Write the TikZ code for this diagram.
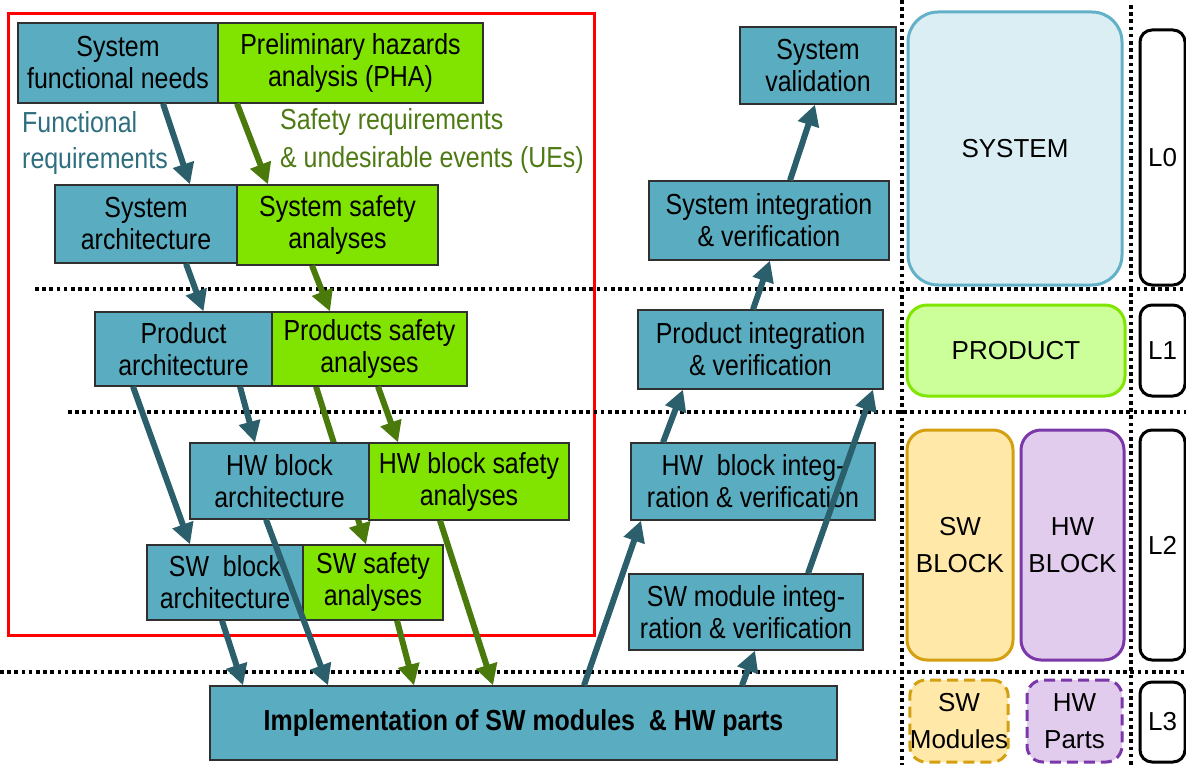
\documentclass[tikz,border=0pt]{standalone}
\usepackage{fontspec}
\setmainfont{Liberation Sans}
\newfontfamily\narrowfont{Liberation Sans}[FakeStretch=0.86]
\usetikzlibrary{arrows.meta,backgrounds}
\definecolor{tealfill}{HTML}{5AADC0}
\definecolor{greenfill}{HTML}{80E400}
\definecolor{boxline}{HTML}{303030}
\definecolor{tealarrow}{HTML}{2B5F6B}
\definecolor{greenarrow}{HTML}{4A7A0C}
\definecolor{tealtext}{HTML}{2E6E7E}
\definecolor{greentext}{HTML}{4E7A14}
\definecolor{sysfill}{HTML}{DAEEF3}
\definecolor{sysline}{HTML}{62B1C9}
\definecolor{prodfill}{HTML}{CCFF99}
\definecolor{prodline}{HTML}{80E600}
\definecolor{swfill}{HTML}{FFE8A8}
\definecolor{swline}{HTML}{D4A010}
\definecolor{hwfill}{HTML}{E2CCEE}
\definecolor{hwline}{HTML}{7B38A8}
\tikzset{
  tbox/.style={draw=boxline, line width=1.2pt, fill=tealfill, inner sep=2pt, align=center,
    font=\narrowfont\fontsize{29}{32}\selectfont, text=black},
  gbox/.style={tbox, fill=greenfill},
  tarr/.style={draw=tealarrow, line width=6pt, -{Triangle[length=21pt,width=21pt]}},
  garr/.style={tarr, draw=greenarrow},
  dotline/.style={line width=3.6pt, dash pattern=on 3.6pt off 3.6pt, black},
  rbox/.style={line width=3pt, rounded corners=20pt, align=center,
    font=\fontsize{26}{37}\selectfont, inner sep=0pt},
  lbox/.style={draw=black, line width=3pt, rounded corners=12pt, fill=white,
    font=\fontsize{26}{30}\selectfont, inner sep=0pt}
}
\begin{document}
\begin{tikzpicture}[x=1pt,y=-1pt]
\useasboundingbox (0,0) rectangle (1186,765);

% left V branch
\node[tbox, minimum width=200pt, minimum height=80pt] (sfn) at (118,63) {System\\functional needs};
\node[gbox, minimum width=265pt, minimum height=80pt] (pha) at (350.5,63) {Preliminary hazards\\analysis (PHA)};
\node[tbox, minimum width=182pt, minimum height=78pt] (sa) at (146,224) {System\\architecture};
\node[gbox, minimum width=201pt, minimum height=80pt] (ssa) at (337.5,225) {System safety\\analyses};
\node[tbox, minimum width=177pt, minimum height=74pt] (pa) at (183.5,349) {Product\\architecture};
\node[gbox, minimum width=195pt, minimum height=74pt] (psa) at (369.5,349) {Products safety\\analyses};
\node[tbox, minimum width=179pt, minimum height=76pt] (hwa) at (279.5,481) {HW block\\architecture};
\node[gbox, minimum width=200pt, minimum height=77pt] (hwsa) at (469,481.5) {HW block safety\\analyses};
\node[tbox, minimum width=156pt, minimum height=75pt] (swa) at (225,582.5) {SW\ \ block\\architecture};
\node[gbox, minimum width=140pt, minimum height=75pt] (swsa) at (373,582.5) {SW safety\\analyses};
\node[tbox, minimum width=627pt, minimum height=74pt, font=\narrowfont\bfseries\fontsize{29}{32}\selectfont] (impl) at (523.5,723) {Implementation of SW modules\ \ \& HW parts};

% right V branch
\node[tbox, minimum width=156pt, minimum height=77pt] (sv) at (818,65.5) {System\\validation};
\node[tbox, minimum width=240pt, minimum height=79pt] (siv) at (769,220.5) {System integration\\\& verification};
\node[tbox, minimum width=245pt, minimum height=79pt] (piv) at (760.5,349.5) {Product integration\\\& verification};
\node[tbox, minimum width=244pt, minimum height=77pt] (hbiv) at (753,481.5) {HW\ \ block integ-\\ration \& verification};
\node[tbox, minimum width=234pt, minimum height=76pt] (smiv) at (746,612) {SW module integ-\\ration \& verification};

% labels
\node[anchor=west, align=left, inner sep=0pt, text=tealtext, font=\narrowfont\fontsize{29}{36}\selectfont] (freq) at (22,143) {Functional\\requirements};
\node[anchor=west, align=left, inner sep=0pt, text=greentext, font=\narrowfont\fontsize{29}{38}\selectfont] (sreq) at (280,141) {Safety requirements\\\& undesirable events (UEs)};

% level legend
\node[rbox, draw=sysline, fill=sysfill, rounded corners=30pt, minimum width=214pt, minimum height=273pt] (sys) at (1015,148.5) {SYSTEM};
\node[rbox, draw=prodline, fill=prodfill, minimum width=218pt, minimum height=91pt] (prod) at (1016,350.5) {PRODUCT};
\node[rbox, draw=swline, fill=swfill, minimum width=106pt, minimum height=230pt] (swb) at (960,545) {SW\\BLOCK};
\node[rbox, draw=hwline, fill=hwfill, minimum width=103pt, minimum height=230pt] (hwb) at (1072.5,545) {HW\\BLOCK};
\node[rbox, draw=swline, fill=swfill, dash pattern=on 11pt off 6pt, rounded corners=16pt, minimum width=98pt, minimum height=82pt] (swm) at (959,721) {SW\\Modules};
\node[rbox, draw=hwline, fill=hwfill, dash pattern=on 11pt off 6pt, rounded corners=16pt, minimum width=95pt, minimum height=82pt] (hwp) at (1074.5,721) {HW\\Parts};

\node[lbox, minimum width=45pt, minimum height=255pt] (l0) at (1162.5,157.5) {L0};
\node[lbox, minimum width=45pt, minimum height=91pt] (l1) at (1162.5,350.5) {L1};
\node[lbox, minimum width=45pt, minimum height=230pt] (l2) at (1162.5,545) {L2};
\node[lbox, minimum width=45pt, minimum height=80pt] (l3) at (1162.5,722) {L3};

\begin{scope}[on background layer]
  \draw[red, line width=3pt] (8,14) rectangle (594,635);
  \draw[dotline] (35,289) -- (1186,289);
  \draw[dotline] (68,412) -- (1186,412);
  \draw[dotline] (0,672) -- (1186,672);
  \draw[dotline] (902,0) -- (902,765);
  \draw[dotline] (1131,5) -- (1131,765);
  \draw[garr] ([xshift=-53.5pt]psa.south) -- ([xshift=-7pt]swsa.north);
\end{scope}

% descending arrows
\draw[tarr] ([xshift=45pt]sfn.south) -- ([xshift=44pt]sa.north);
\draw[garr] ([xshift=-113.5pt]pha.south) -- ([xshift=-69.5pt]ssa.north);
\draw[tarr] ([xshift=40pt]sa.south) -- ([xshift=20pt]pa.north);
\draw[garr] ([xshift=-25.5pt]ssa.south) -- ([xshift=-39.5pt]psa.north);
\draw[tarr] ([xshift=-50.5pt]pa.south) -- ([xshift=-35pt]swa.north);
\draw[tarr] ([xshift=56.5pt]pa.south) -- ([xshift=-24.5pt]hwa.north);
\draw[garr] ([xshift=8.5pt]psa.south) -- ([xshift=-71pt]hwsa.north);
\draw[tarr] ([xshift=-13.5pt]hwa.south) -- ([xshift=-195.5pt]impl.north);
\draw[tarr] ([xshift=-3pt]swa.south) -- ([xshift=-280.5pt]impl.north);
\draw[garr] ([xshift=24pt]swsa.south) -- ([xshift=-109.5pt]impl.north);
\draw[garr] ([xshift=-29pt]hwsa.south) -- ([xshift=-30.5pt]impl.north);

% ascending arrows
\draw[tarr] ([xshift=60.5pt]impl.north) -- ([xshift=-112pt]hbiv.south);
\draw[tarr] ([xshift=218.5pt]impl.north) -- ([xshift=9pt]smiv.south);
\draw[tarr] ([xshift=62pt]smiv.north) -- ([xshift=112.5pt]piv.south);
\draw[tarr] ([xshift=-90pt]hbiv.north) -- ([xshift=-77.5pt]piv.south);
\draw[tarr] ([xshift=-7.5pt]piv.north) -- ([xshift=1pt]siv.south);
\draw[tarr] ([xshift=21pt]siv.north) -- ([xshift=-3pt]sv.south);
\end{tikzpicture}
\end{document}
